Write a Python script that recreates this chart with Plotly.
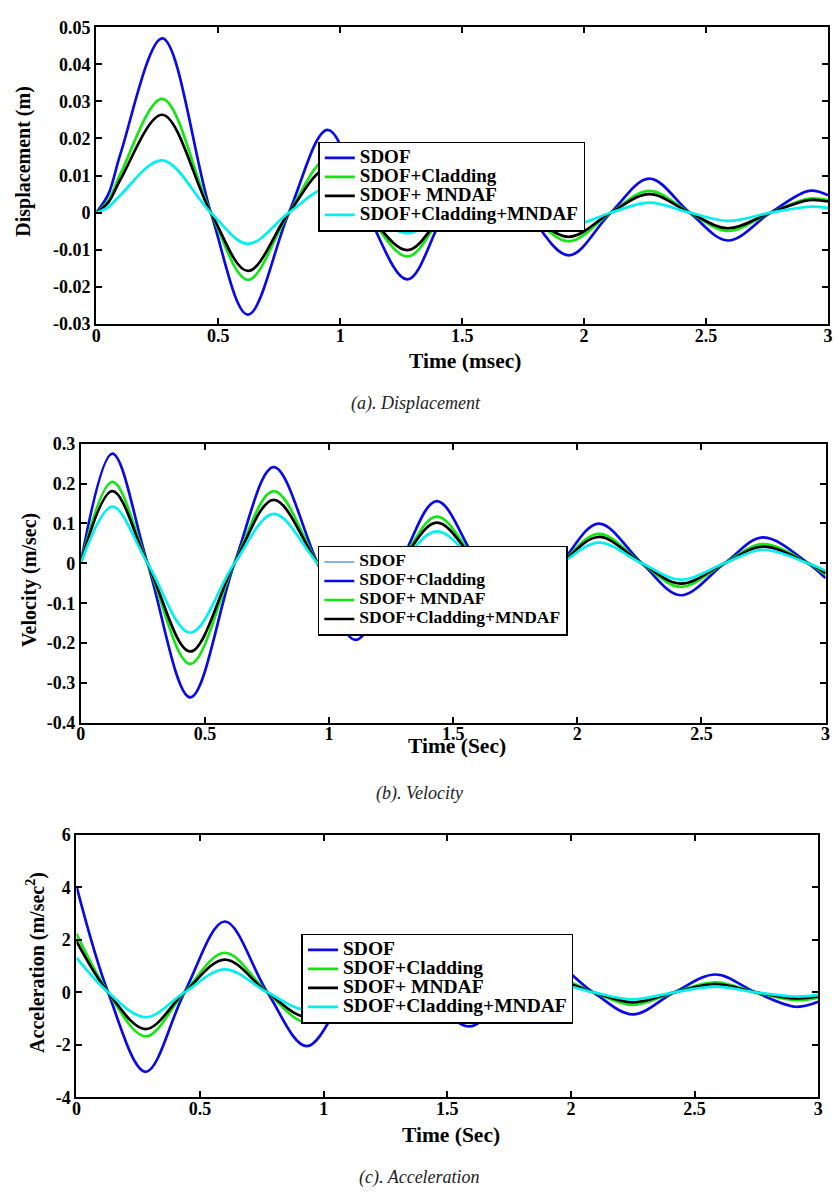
import plotly.graph_objects as go

# ---------------- data ----------------
# (a) displacement, time in msec
disp_t = [0, 0.05, 0.1, 0.271, 0.47, 0.622, 0.79, 0.949, 1.11, 1.276, 1.43, 1.60,
          1.77, 1.937, 2.109, 2.267, 2.433, 2.589, 2.764, 2.922, 3.0]
disp_sdof = [0, 0.005, 0.016, 0.047, 0, -0.0275, 0, 0.0223, 0, -0.018, 0, 0.0143,
             0, -0.0115, 0, 0.0092, 0, -0.0075, 0, 0.0059, 0.0047]
disp_clad = [0, 0.0033, 0.0105, 0.0307, 0, -0.0181, 0, 0.0144, 0, -0.0118, 0, 0.0093,
             0, -0.0077, 0, 0.0059, 0, -0.0049, 0, 0.0038, 0.0034]
disp_mndaf = [0, 0.0028, 0.009, 0.0264, 0, -0.0157, 0, 0.0119, 0, -0.0101, 0, 0.008,
              0, -0.0065, 0, 0.005, 0, -0.0042, 0, 0.0034, 0.003]
disp_both = [0, 0.0015, 0.0048, 0.0141, 0, -0.0084, 0, 0.0065, 0, -0.0055, 0, 0.0043,
             0, -0.0035, 0, 0.0027, 0, -0.0022, 0, 0.0016, 0.0013]

# (b) velocity, time in sec
vel_t = [0, 0.127, 0.269, 0.441, 0.619, 0.777, 0.954, 1.106, 1.285, 1.434, 1.60,
         1.77, 1.935, 2.086, 2.26, 2.416, 2.593, 2.747, 2.93, 3.0]
vel_sdof = [0, 0.275, 0, -0.336, 0, 0.241, 0, -0.192, 0, 0.156, 0,
            -0.125, 0, 0.0995, 0, -0.08, 0, 0.065, 0, -0.037]
vel_clad = [0, 0.204, 0, -0.252, 0, 0.181, 0, -0.144, 0, 0.117, 0,
            -0.094, 0, 0.074, 0, -0.059, 0, 0.048, 0, -0.028]
vel_mndaf = [0, 0.181, 0, -0.221, 0, 0.159, 0, -0.127, 0, 0.102, 0,
             -0.082, 0, 0.066, 0, -0.051, 0, 0.042, 0, -0.024]
vel_both = [0, 0.142, 0, -0.174, 0, 0.124, 0, -0.099, 0, 0.080, 0,
            -0.064, 0, 0.052, 0, -0.041, 0, 0.034, 0, -0.019]

# (c) acceleration, time in sec
acc_t = [0, 0.128, 0.28, 0.437, 0.6, 0.772, 0.931, 1.095, 1.26, 1.425, 1.587,
         1.755, 1.92, 2.09, 2.25, 2.418, 2.585, 2.747, 2.91, 3.0]
acc_sdof = [4.05, 0, -3.03, 0, 2.7, 0, -2.05, 0, 1.65, 0, -1.3,
            0, 1.07, 0, -0.84, 0, 0.68, 0, -0.55, -0.36]
acc_clad = [2.24, 0, -1.68, 0, 1.51, 0, -1.14, 0, 0.92, 0, -0.73,
            0, 0.6, 0, -0.48, 0, 0.38, 0, -0.3, -0.2]
acc_mndaf = [1.95, 0, -1.4, 0, 1.25, 0, -0.93, 0, 0.76, 0, -0.6,
             0, 0.49, 0, -0.38, 0, 0.31, 0, -0.23, -0.16]
acc_both = [1.32, 0, -0.95, 0, 0.875, 0, -0.66, 0, 0.53, 0, -0.42,
            0, 0.34, 0, -0.27, 0, 0.22, 0, -0.16, -0.11]

names = ["SDOF", "SDOF+Cladding", "SDOF+ MNDAF", "SDOF+Cladding+MNDAF"]

x_ticks = [0, 0.5, 1, 1.5, 2, 2.5, 3]
x_ticktext = ["0", "0.5", "1", "1.5", "2", "2.5", "3"]
disp_ticks = [-0.03, -0.02, -0.01, 0, 0.01, 0.02, 0.03, 0.04, 0.05]
disp_ticktext = ["-0.03", "-0.02", "-0.01", "0", "0.01", "0.02", "0.03", "0.04", "0.05"]
vel_ticks = [-0.4, -0.3, -0.2, -0.1, 0, 0.1, 0.2, 0.3]
vel_ticktext = ["-0.4", "-0.3", "-0.2", "-0.1", "0", "0.1", "0.2", "0.3"]
acc_ticks = [-4, -2, 0, 2, 4, 6]
acc_ticktext = ["-4", "-2", "0", "2", "4", "6"]

# ---------------- styling ----------------
W, H = 838, 1197
BLUE, GREEN, BLACK, CYAN = "#0a0ae6", "#14e614", "#000000", "#00f0f0"
SERIF = "Times New Roman, Liberation Serif, serif"
LW = 2.7


def px_dom_x(left, right):
    return [left / W, right / W]


def px_dom_y(top, bottom):
    return [1 - bottom / H, 1 - top / H]


def big(name, size):
    # legend rows keep a tight pitch from the legend font; the label itself is larger
    return f'<span style="font-size:{size}px">{name}</span>'


fig = go.Figure()


def add_line(x, y, name, color, xa, ya, legend, width=LW, showlegend=True, rank=1000):
    fig.add_trace(go.Scatter(
        x=x, y=y, name=name, mode="lines",
        line=dict(color=color, width=width, shape="spline", smoothing=1.0),
        xaxis=xa, yaxis=ya, legend=legend, showlegend=showlegend, legendrank=rank,
    ))


# panel (a)
for ys, nm, c in zip([disp_sdof, disp_clad, disp_mndaf, disp_both], names,
                     [BLUE, GREEN, BLACK, CYAN]):
    add_line(disp_t, ys, big(nm, 19), c, "x", "y", "legend")

# panel (b): thin "SDOF" entry sits under the cyan curve, which has no legend entry
add_line(vel_t, vel_both, big(names[0], 17.5), "#0072BD", "x2", "y2", "legend2", width=1.2, rank=1)
add_line(vel_t, vel_sdof, big(names[1], 17.5), BLUE, "x2", "y2", "legend2", rank=2)
add_line(vel_t, vel_clad, big(names[2], 17.5), GREEN, "x2", "y2", "legend2", rank=3)
add_line(vel_t, vel_mndaf, big(names[3], 17.5), BLACK, "x2", "y2", "legend2", rank=4)
add_line(vel_t, vel_both, names[3], CYAN, "x2", "y2", "legend2", showlegend=False)

# panel (c)
for ys, nm, c in zip([acc_sdof, acc_clad, acc_mndaf, acc_both], names,
                     [BLUE, GREEN, BLACK, CYAN]):
    add_line(acc_t, ys, big(nm, 19.5), c, "x3", "y3", "legend3")

tickfont = dict(family=SERIF, size=18, color="black", weight="bold")
axis_common = dict(
    showline=True, linecolor="black", linewidth=2, mirror="ticks",
    ticks="inside", ticklen=6, tickwidth=1.5, tickcolor="black",
    showgrid=False, zeroline=False, tickfont=tickfont, tickmode="array",
)

panels = [
    # (x-axis key, y-axis key, x ref, y ref, left, right, top, bottom, y range, ticks, labels)
    ("xaxis", "yaxis", "x", "y", 92.3, 833, 17.5, 319.3, [-0.03, 0.05], disp_ticks, disp_ticktext),
    ("xaxis2", "yaxis2", "x2", "y2", 76.7, 830.5, 441, 725, [-0.4, 0.3], vel_ticks, vel_ticktext),
    ("xaxis3", "yaxis3", "x3", "y3", 72.3, 823, 839, 1105.7, [-4, 6], acc_ticks, acc_ticktext),
]
layout_axes = {}
for xk, yk, xr, yr, l, r, t, b, yrng, yt, ytt in panels:
    layout_axes[xk] = dict(axis_common, domain=px_dom_x(l, r), anchor=yr, range=[0, 3],
                           tickvals=x_ticks, ticktext=x_ticktext, ticklabelstandoff=-6)
    layout_axes[yk] = dict(axis_common, domain=px_dom_y(t, b), anchor=xr, range=yrng,
                           tickvals=yt, ticktext=ytt)


def legend_box(xpx, ypx, size):
    return dict(
        bgcolor="white", bordercolor="black", borderwidth=1.6,
        xanchor="left", yanchor="top", tracegroupgap=0,
        x=xpx / W, y=1 - ypx / H, itemwidth=30,
        font=dict(family=SERIF, size=size, color="black", weight="bold"),
    )


fig.update_layout(
    width=W, height=H, margin=dict(l=0, r=0, t=0, b=0),
    paper_bgcolor="white", plot_bgcolor="white",
    legend=legend_box(317, 134, 12.3),
    legend2=legend_box(316.5, 545, 11.2),
    legend3=legend_box(300, 939.5, 11.8),
    **layout_axes,
)

title_font = dict(family=SERIF, size=20, color="black", weight="bold")
xtitle_font = dict(family=SERIF, size=21.5, color="black", weight="bold")
caption_font = dict(family=SERIF, size=18, color="#222222", style="italic")


def paper_text(text, xpx, ypx, font, angle=0):
    fig.add_annotation(text=text, x=xpx / W, y=1 - ypx / H, xref="paper", yref="paper",
                       showarrow=False, font=font, textangle=angle,
                       xanchor="center", yanchor="middle")


# axis titles
paper_text("Displacement (m)", 18.5, 154, title_font, -90)
paper_text("Time (msec)", 466, 357, xtitle_font)
paper_text("Velocity (m/sec)", 25, 580, title_font, -90)
paper_text("Time (Sec)", 457, 748, xtitle_font)
paper_text("Acceleration (m/sec<sup>2</sup>)", 31.5, 969, title_font, -90)
paper_text("Time (Sec)", 451, 1144, xtitle_font)

# captions
paper_text("(a). Displacement", 416, 400, caption_font)
paper_text("(b). Velocity", 419, 797, caption_font)
paper_text("(c). Acceleration", 419, 1187, caption_font)

fig.write_html("out.html")
